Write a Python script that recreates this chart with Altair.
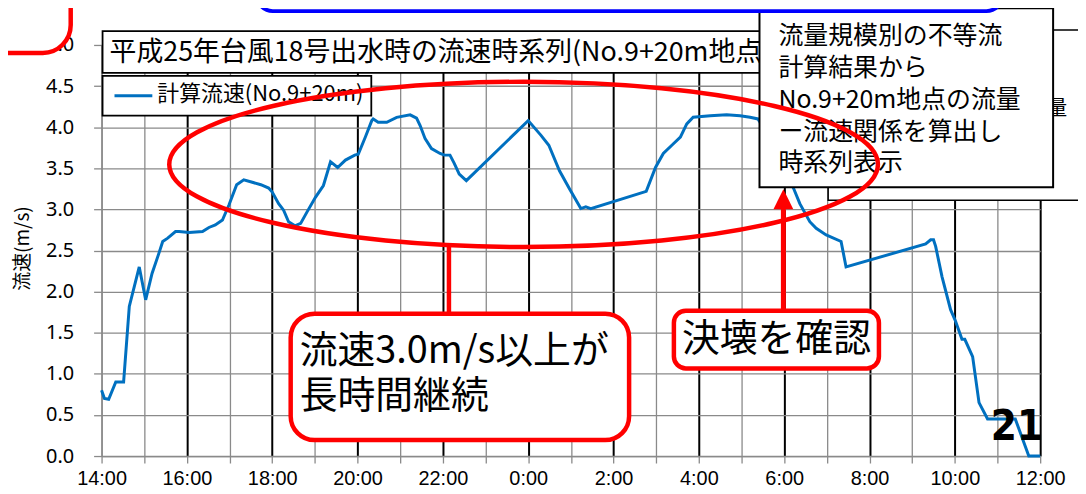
import altair as alt
import pandas as pd

# ---------------- data ----------------
times = ["14:00", "14:04", "14:10", "14:20", "14:31", "14:39", "14:53", "15:02", "15:11", "15:20",
         "15:26", "15:33", "15:44", "15:49", "16:03", "16:22", "16:31", "16:40", "16:50", "16:59",
         "17:10", "17:20", "17:32", "17:44", "17:55", "18:00", "18:09", "18:16", "18:23", "18:32",
         "18:40", "18:49", "19:01", "19:12", "19:22", "19:32", "19:43", "19:56", "20:01", "20:11",
         "20:20", "20:22", "20:29", "20:41", "20:55", "21:14", "21:23", "21:28", "21:35", "21:44",
         "21:56", "22:02", "22:10", "22:16", "22:23", "22:33", "0:00", "0:18", "0:29", "0:44",
         "0:58", "1:14", "1:21", "1:28", "2:46", "2:59", "3:10", "3:22", "3:34", "3:43",
         "3:52", "4:16", "4:39", "4:58", "5:12", "5:23", "5:26", "6:13", "6:22", "6:36",
         "6:45", "6:59", "7:20", "7:27", "9:19", "9:26", "9:30", "9:33", "9:42", "9:54",
         "10:01", "10:10", "10:14", "10:25", "10:34", "10:46", "11:25", "11:44", "12:00"]
speeds = [0.80, 0.70, 0.69, 0.90, 0.90, 1.82, 2.30, 1.90, 2.22, 2.45,
          2.61, 2.65, 2.73, 2.73, 2.72, 2.73, 2.78, 2.81, 2.87, 3.05,
          3.30, 3.36, 3.33, 3.30, 3.26, 3.21, 3.07, 2.99, 2.85, 2.80,
          2.83, 2.97, 3.15, 3.29, 3.58, 3.51, 3.60, 3.66, 3.67, 3.88,
          4.08, 4.10, 4.06, 4.06, 4.12, 4.15, 4.11, 4.02, 3.86, 3.74,
          3.68, 3.66, 3.66, 3.56, 3.43, 3.35, 4.08, 3.90, 3.78, 3.47,
          3.25, 3.01, 3.03, 3.01, 3.22, 3.51, 3.68, 3.78, 3.88, 4.04,
          4.12, 4.14, 4.15, 4.14, 4.12, 4.10, 4.06, 3.26, 3.07, 2.85,
          2.77, 2.69, 2.61, 2.30, 2.58, 2.63, 2.63, 2.55, 2.18, 1.78,
          1.64, 1.42, 1.42, 1.21, 0.65, 0.45, 0.45, 0.00, 0.00]

x_tick_labels = ["14:00", "", "16:00", "", "18:00", "", "20:00", "", "22:00", "", "0:00", "",
                 "2:00", "", "4:00", "", "6:00", "", "8:00", "", "10:00", "", "12:00"]
y_ticks = [0.0, 0.5, 1.0, 1.5, 2.0, 2.5, 3.0, 3.5, 4.0, 4.5, 5.0]

chart_title = "平成25年台風18号出水時の流速時系列(No.9+20m地点)"
series_name = "計算流速(No.9+20m)"
y_title = "流速(m/s)"
note_lines = ["流量規模別の不等流", "計算結果から", "No.9+20m地点の流量", "ー流速関係を算出し", "時系列表示"]
callout1_lines = ["流速3.0m/s以上が", "長時間継続"]
callout2_text = "決壊を確認"
page_no = "21"
hidden_char = "量"


def to_hours(s):
    h, m = map(int, s.split(":"))
    return ((h - 14) % 24) + m / 60.0


df = pd.DataFrame({"time": times, "hours": [to_hours(t) for t in times], "speed": speeds})
x_ticks = list(range(len(x_tick_labels)))
label_expr = "[" + ",".join("'%s'" % l for l in x_tick_labels) + "][datum.value]"

W, H = 943, 413
JP = "Noto Sans CJK JP"
NARROW = "'Liberation Sans Narrow', 'DejaVu Sans Condensed', 'Liberation Sans', sans-serif"
GREY = "#8a8a8a"
RED = "#FF0000"

major = "datum.value % 2 == 0 && datum.value > 0"

line = alt.Chart(df).mark_line(color="#0070C0", strokeWidth=3).encode(
    x=alt.X("hours:Q",
            scale=alt.Scale(domain=[0, 22], nice=False, zero=False),
            axis=alt.Axis(values=x_ticks, labelExpr=label_expr, title=None, grid=True,
                          gridColor={"condition": {"test": major, "value": "#000000"}, "value": GREY},
                          gridWidth={"condition": {"test": major, "value": 2}, "value": 1.3},
                          labelFlush=False, labelBound=False, labelOverlap=False,
                          labelFont="'Liberation Sans', sans-serif", labelFontSize=20,
                          labelColor="#000000",
                          labelPadding=6, tickSize=7, tickColor=GREY, tickWidth=1.3,
                          domainColor=GREY, domainWidth=1.5)),
    y=alt.Y("speed:Q",
            scale=alt.Scale(domain=[0, 5], nice=False, zero=True),
            axis=alt.Axis(values=y_ticks, format=".1f", title=y_title, grid=True,
                          gridColor=GREY, gridWidth=1.3,
                          labelFont="Noto Sans", labelFontSize=20, labelColor="#000000",
                          labelPadding=20, tickSize=8, tickColor=GREY, tickWidth=1.3,
                          domainColor=GREY, domainWidth=1.5,
                          titleFont=JP, titleFontSize=19, titleFontWeight="normal",
                          titleColor="#000000", titleAngle=270, titleAlign="center",
                          titleBaseline="middle", titleX=-79, titleY=204)),
)

one = pd.DataFrame({"k": [0]})


def rect(x, x2, y, y2, **kw):
    return alt.Chart(one).mark_rect(**kw).encode(
        x=alt.value(x), x2=alt.value(x2), y=alt.value(y), y2=alt.value(y2))


def rule(x, y, x2, y2, **kw):
    return alt.Chart(one).mark_rule(**kw).encode(
        x=alt.value(x), x2=alt.value(x2), y=alt.value(y), y2=alt.value(y2))


def text(x, y, t, **kw):
    return alt.Chart(one).mark_text(text=t, **kw).encode(x=alt.value(x), y=alt.value(y))


ELLIPSE = ("M-1,0 C-1,-0.1287 -0.5523,-0.2331 0,-0.2331 C0.5523,-0.2331 1,-0.1287 1,0 "
           "C1,0.1287 0.5523,0.2331 0,0.2331 C-0.5523,0.2331 -1,0.1287 -1,0 Z")
TRI = "M0,-1 L1,1 L-1,1 Z"

layers = [
    line,
    # title box
    rect(1, 720, -14, 28, fill="white", stroke="black", strokeWidth=1.8),
    text(8, 8, chart_title, font=JP, fontSize=27, align="left", baseline="middle", color="black"),
    # legend box
    rect(1, 271, 31, 71, fill="white", stroke="black", strokeWidth=1.8),
    rule(13, 51, 51, 51, color="#0070C0", strokeWidth=3),
    text(56, 49, series_name, font=JP, fontSize=22, align="left", baseline="middle", color="black"),
    # partly hidden box behind the note
    rect(730, 1100, -15, 156, fill="white", stroke="black", strokeWidth=1.5),
    text(950, 64, hidden_char, font=JP, fontSize=20, align="left", baseline="middle", color="black"),
    # note box
    rect(661, 956, -37, 143, fill="white", stroke="black", strokeWidth=2),
    text(680, -9, note_lines, font=JP, fontSize=25, lineHeight=32, align="left",
         baseline="middle", color="black"),
    # red ellipse
    alt.Chart(one).mark_point(shape=ELLIPSE, size=712 * 712, filled=False, stroke=RED,
                              strokeWidth=4.5, opacity=1).encode(x=alt.value(424), y=alt.value(120)),
    # callout 1
    rule(349, 203, 349, 270, color=RED, strokeWidth=4.5),
    rect(190, 530, 270, 397, fill="white", stroke=RED, strokeWidth=4.5, cornerRadius=24),
    text(199, 309, callout1_lines, font=JP, fontSize=38, lineHeight=45, align="left",
         baseline="middle", color="black"),
    # callout 2 + arrow
    rule(685, 160, 685, 267, color=RED, strokeWidth=5),
    alt.Chart(one).mark_point(shape=TRI, size=400, filled=True, fill=RED, stroke=RED,
                              strokeWidth=0, opacity=1).encode(x=alt.value(685), y=alt.value(155)),
    rect(575, 781, 267, 325, fill="white", stroke=RED, strokeWidth=4.5, cornerRadius=12),
    text(678, 296, callout2_text, font=JP, fontSize=38, align="center", baseline="middle", color="black"),
    # page number
    text(946, 397, page_no, font=NARROW, fontSize=42, fontWeight="bold",
         align="right", baseline="alphabetic", color="black"),
    # slide frames around
    rect(-300, -31, -300, 8, fill="white", stroke=RED, strokeWidth=4.5, cornerRadius=28),
    rect(156, 905, -200, -34, fill="white", stroke="#0000FF", strokeWidth=4, cornerRadius=16),
]

chart = alt.layer(*layers).properties(
    width=W, height=H,
    autosize=alt.AutoSizeParams(type="none"),
    padding={"left": 94, "top": 36, "right": 38, "bottom": 35},
).configure_view(strokeWidth=0).configure(background="white")

chart.save("out.html", embed_options={"renderer": "svg", "actions": False})
